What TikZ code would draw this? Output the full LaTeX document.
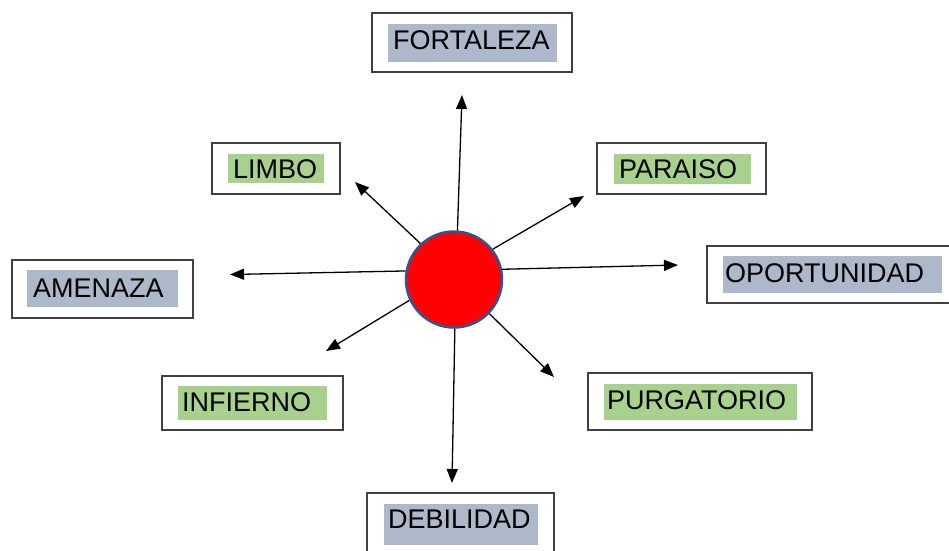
\documentclass[tikz,border=0pt]{standalone}
\usepackage{fontspec}
\setmainfont{Liberation Sans}
\usetikzlibrary{arrows.meta}
\definecolor{boxline}{HTML}{404040}
\definecolor{greyfill}{HTML}{ADB9CA}
\definecolor{greenfill}{HTML}{A9D18E}
\definecolor{circline}{HTML}{2F5597}
\begin{document}
\begin{tikzpicture}[x=1pt,y=-1pt,
  outerbox/.style={draw=boxline,line width=1.5pt,fill=white,rectangle,inner sep=0pt},
  greybox/.style={fill=greyfill,rectangle,inner sep=0pt},
  greenbox/.style={fill=greenfill,rectangle,inner sep=0pt},
  lbl/.style={anchor=west,inner sep=0pt,font=\fontsize{27}{31}\selectfont},
  arr/.style={draw=black,line width=1.3pt,-{Triangle[length=14pt,width=11pt]}}]
\useasboundingbox (0,0) rectangle (949,550);
\begin{scope}
\clip (0,0) rectangle (949,550);
% FORTALEZA
\node[outerbox,minimum width=200pt,minimum height=59pt] (fortO) at (472,42.5) {};
\node[greybox,minimum width=169pt,minimum height=38pt] (fortF) at (472.5,43) {};
\node[lbl] (fortT) at (393,40) {FORTALEZA};
% LIMBO
\node[outerbox,minimum width=128pt,minimum height=51pt] (limbO) at (276,168.5) {};
\node[greenbox,minimum width=96pt,minimum height=29pt] (limbF) at (276,168.5) {};
\node[lbl] (limbT) at (233,169) {LIMBO};
% PARAISO
\node[outerbox,minimum width=169pt,minimum height=51pt] (paraO) at (681.5,168.5) {};
\node[greenbox,minimum width=137pt,minimum height=30pt] (paraF) at (682.5,169) {};
\node[lbl] (paraT) at (619,169) {PARAISO};
% AMENAZA
\node[outerbox,minimum width=181pt,minimum height=58pt] (ameO) at (102.5,289) {};
\node[greybox,minimum width=151pt,minimum height=37pt] (ameF) at (102.5,288.5) {};
\node[lbl] (ameT) at (33,288) {AMENAZA};
% OPORTUNIDAD
\node[outerbox,minimum width=260pt,minimum height=57pt] (opoO) at (837,274.5) {};
\node[greybox,minimum width=219pt,minimum height=37pt] (opoF) at (832.5,274.5) {};
\node[lbl] (opoT) at (725,273) {OPORTUNIDAD};
% INFIERNO
\node[outerbox,minimum width=181pt,minimum height=54pt] (infO) at (252.5,403) {};
\node[greenbox,minimum width=149pt,minimum height=34pt] (infF) at (252.5,403) {};
\node[lbl] (infT) at (182,402) {INFIERNO};
% PURGATORIO
\node[outerbox,minimum width=224pt,minimum height=57pt] (purO) at (700,401.5) {};
\node[greenbox,minimum width=193pt,minimum height=36pt] (purF) at (700.5,402) {};
\node[lbl] (purT) at (607,400) {PURGATORIO};
% DEBILIDAD
\node[outerbox,minimum width=187pt,minimum height=72pt] (debO) at (460.5,529) {};
\node[greybox,minimum width=154pt,minimum height=41pt] (debF) at (461,524.5) {};
\node[lbl] (debT) at (388,519) {DEBILIDAD};
\end{scope}
% centre
\node[circle,fill=red,draw=circline,line width=2.5pt,minimum size=96pt,inner sep=0pt] (c) at (454,279.5) {};
% arrow tips
\coordinate (tUp) at (462,95);
\coordinate (tUL) at (355,182);
\coordinate (tUR) at (584,196);
\coordinate (tL) at (230,274.5);
\coordinate (tR) at (678,265);
\coordinate (tLL) at (326,351);
\coordinate (tLR) at (554,377);
\coordinate (tD) at (452,483);
\draw[arr] (c.86.5) -- (tUp);
\draw[arr] (c.133.8) -- (tUL);
\draw[arr] (c.38) -- (tUR);
\draw[arr] (c.170) -- (tL);
\draw[arr] (c.12) -- (tR);
\draw[arr] (c.205.5) -- (tLL);
\draw[arr] (c.316) -- (tLR);
\draw[arr] (c.271) -- (tD);
\end{tikzpicture}
\end{document}
